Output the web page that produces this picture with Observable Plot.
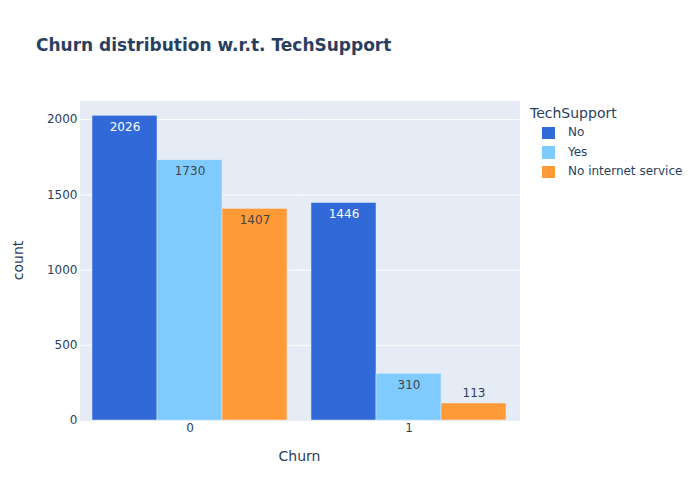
<!DOCTYPE html>
<html><head><meta charset="utf-8">
<script src="https://cdn.jsdelivr.net/npm/d3@7"></script>
<script src="https://cdn.jsdelivr.net/npm/@observablehq/plot@0.6"></script>
<style>
body{margin:0;background:#fff;}
#wrap{position:relative;width:700px;height:500px;font-family:"DejaVu Sans",Verdana,sans-serif;color:#2a3f5f;}
#title{position:absolute;left:36px;top:34.5px;font-size:17px;font-weight:bold;white-space:nowrap;}
#legend{position:absolute;left:530px;top:104px;font-size:12px;}
#legend .lt{font-size:14px;height:18px;line-height:18px;margin-bottom:1px;white-space:nowrap;}
#legend .row{position:relative;height:19.5px;white-space:nowrap;}
#legend .sw{position:absolute;left:12px;top:3.5px;width:12.5px;height:12.5px;}
#legend .lab{position:absolute;left:38px;top:0;line-height:19.5px;}
#chart{position:absolute;left:0;top:0;}
svg [aria-label="y-axis label"], svg [aria-label="fx-axis label"]{font-size:14px;}
</style>
</head><body>
<div id="wrap">
  <div id="chart"></div>
  <div id="title"></div>
  <div id="legend"></div>
</div>
<script>
// ---- data ----
const titleText = "Churn distribution w.r.t. TechSupport";
const churn = ["0", "1"];
const techSupport = ["No", "Yes", "No internet service"];
const countNo = [2026, 1446];
const countYes = [1730, 310];
const countNoInternet = [1407, 113];
const yTicks = [0, 500, 1000, 1500, 2000];
const palette = ["#3169d8", "#7fcbff", "#ff9a36"];

const series = [countNo, countYes, countNoInternet];
const rows = churn.flatMap((c, i) => techSupport.map((t, j) => ({Churn: c, TechSupport: t, count: series[j][i]})));
const yMax = d3.max(rows, d => d.count) * 1.05;
const fitsInside = d => d.count >= 200;

document.getElementById("title").textContent = titleText;

const chart = Plot.plot({
  width: 700, height: 500,
  marginTop: 100, marginRight: 182, marginBottom: 80, marginLeft: 80,
  style: {fontFamily: '"DejaVu Sans", Verdana, sans-serif', fontSize: "12px", color: "#2a3f5f", background: "transparent", overflow: "visible"},
  fx: {domain: churn, padding: 0, label: "Churn", labelAnchor: "center", labelOffset: 40, tickSize: 0, tickPadding: 3, axis: "bottom"},
  x: {domain: techSupport, axis: null, paddingInner: 0, paddingOuter: 1 / 6},
  y: {domain: [0, yMax], ticks: yTicks, tickFormat: d => String(d), tickSize: 0, tickPadding: 3, label: "count", labelAnchor: "center", labelOffset: 67, labelArrow: false},
  color: {domain: techSupport, range: palette},
  marks: [
    Plot.frame({fill: "#E5ECF6", stroke: null, insetLeft: -1, insetRight: -1, shapeRendering: "crispEdges"}),
    Plot.gridY(yTicks.slice(1), {stroke: "white", strokeOpacity: 1, strokeWidth: 1, insetLeft: -1, insetRight: -1}),
    Plot.barY(rows, {fx: "Churn", x: "TechSupport", y: "count", fill: "TechSupport", stroke: "#E5ECF6", strokeWidth: 0.5}),
    Plot.text(rows.filter(d => fitsInside(d) && d.TechSupport === "No"), {fx: "Churn", x: "TechSupport", y: "count", text: d => String(d.count), dy: 11, fill: "white", fontSize: 12}),
    Plot.text(rows.filter(d => fitsInside(d) && d.TechSupport !== "No"), {fx: "Churn", x: "TechSupport", y: "count", text: d => String(d.count), dy: 11, fill: "#444", fontSize: 12}),
    Plot.text(rows.filter(d => !fitsInside(d)), {fx: "Churn", x: "TechSupport", y: "count", text: d => String(d.count), dy: -10, fill: "#2a3f5f", fontSize: 12})
  ]
});
document.getElementById("chart").appendChild(chart);

// legend built from the same color scale
const color = chart.scale("color");
const legend = document.getElementById("legend");
const lt = document.createElement("div");
lt.className = "lt"; lt.textContent = "TechSupport";
legend.appendChild(lt);
for (const t of techSupport) {
  const row = document.createElement("div"); row.className = "row";
  const sw = document.createElement("div"); sw.className = "sw";
  sw.style.background = color.apply(t);
  const lab = document.createElement("div"); lab.className = "lab"; lab.textContent = t;
  row.appendChild(sw); row.appendChild(lab); legend.appendChild(row);
}
</script>
</body></html>
